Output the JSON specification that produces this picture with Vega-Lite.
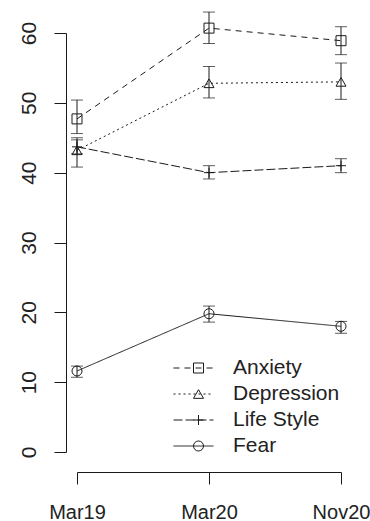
{
  "$schema": "https://vega.github.io/schema/vega-lite/v6.json",
  "autosize": "none",
  "padding": {"left": 77, "top": 33, "right": 29, "bottom": 69},
  "width": 264,
  "height": 419,
  "background": "white",
  "data": {"values": [
    {"series": "Anxiety", "time": "Mar19", "value": 47.7, "lo": 45.6, "hi": 50.4},
    {"series": "Anxiety", "time": "Mar20", "value": 60.7, "lo": 58.5, "hi": 63.0},
    {"series": "Anxiety", "time": "Nov20", "value": 58.9, "lo": 56.9, "hi": 60.9},
    {"series": "Depression", "time": "Mar19", "value": 43.2, "lo": 40.8, "hi": 45.0},
    {"series": "Depression", "time": "Mar20", "value": 52.8, "lo": 50.7, "hi": 55.2},
    {"series": "Depression", "time": "Nov20", "value": 53.0, "lo": 50.5, "hi": 55.7},
    {"series": "Life Style", "time": "Mar19", "value": 43.7, "lo": 42.7, "hi": 44.7},
    {"series": "Life Style", "time": "Mar20", "value": 40.0, "lo": 39.1, "hi": 41.0},
    {"series": "Life Style", "time": "Nov20", "value": 41.0, "lo": 40.0, "hi": 42.0},
    {"series": "Fear", "time": "Mar19", "value": 11.6, "lo": 10.7, "hi": 12.3},
    {"series": "Fear", "time": "Mar20", "value": 19.8, "lo": 18.6, "hi": 20.9},
    {"series": "Fear", "time": "Nov20", "value": 18.0, "lo": 17.0, "hi": 18.7}
  ]},
  "encoding": {
    "x": {"field": "time", "type": "ordinal", "title": null,
      "scale": {"type": "point", "padding": 0, "domain": ["Mar19", "Mar20", "Nov20"]}}
  },
  "layer": [
    {
      "mark": {"type": "rule", "color": "#1a1a1a", "strokeWidth": 1},
      "encoding": {
        "y": {"field": "lo", "type": "quantitative", "title": null, "scale": {"domain": [0, 60], "nice": false, "zero": false}},
        "y2": {"field": "hi"}
      }
    },
    {
      "mark": {"type": "tick", "color": "#1a1a1a", "size": 12, "thickness": 1},
      "encoding": {"y": {"field": "lo", "type": "quantitative", "title": null}}
    },
    {
      "mark": {"type": "tick", "color": "#1a1a1a", "size": 12, "thickness": 1},
      "encoding": {"y": {"field": "hi", "type": "quantitative", "title": null}}
    },
    {
      "mark": {"type": "line", "color": "#1a1a1a", "strokeWidth": 1},
      "encoding": {
        "y": {"field": "value", "type": "quantitative", "title": null,
          "axis": {"values": [0, 10, 20, 30, 40, 50, 60]}},
        "strokeDash": {"field": "series", "type": "nominal",
          "sort": ["Anxiety", "Depression", "Life Style", "Fear"],
          "scale": {"range": [[6, 5], [2, 3], [9, 3], [1, 0]]},
          "legend": {"orient": "none", "legendX": 96, "legendY": 324, "title": null,
            "symbolType": "stroke", "symbolSize": 1600, "symbolStrokeColor": "#1a1a1a",
            "symbolStrokeWidth": 1, "symbolOffset": 0,
            "labelFont": "Liberation Sans", "labelFontSize": 21, "labelColor": "#222",
            "labelOffset": 19, "clipHeight": 22, "rowPadding": 4, "padding": 0}}
      }
    },
    {
      "mark": {"type": "point", "color": "#1a1a1a", "filled": false, "strokeWidth": 1, "size": 100, "opacity": 1},
      "encoding": {
        "y": {"field": "value", "type": "quantitative", "title": null},
        "shape": {"field": "series", "type": "nominal",
          "scale": {"domain": ["Anxiety", "Depression", "Life Style", "Fear"],
            "range": ["square", "triangle-up", "M-1,0H1M0,-1V1", "circle"]},
          "legend": {"orient": "none", "legendX": 96, "legendY": 324, "title": null,
            "symbolSize": 100, "symbolStrokeColor": "#1a1a1a", "symbolStrokeWidth": 1,
            "symbolOffset": 15, "labelExpr": "''", "labelFontSize": 21,
            "clipHeight": 22, "rowPadding": 4, "padding": 0}}
      }
    }
  ],
  "config": {
    "view": {"stroke": null},
    "axis": {"domainColor": "#1a1a1a", "tickColor": "#1a1a1a", "labelColor": "#222",
      "labelFont": "Liberation Sans", "labelFontSize": 21, "tickSize": 12,
      "grid": false, "domainWidth": 1, "tickWidth": 1},
    "axisX": {"offset": 20, "labelAngle": 0, "labelBaseline": "alphabetic", "labelPadding": 34, "labelFontSize": 20},
    "axisY": {"offset": 11, "labelAngle": -90, "labelAlign": "center", "labelBaseline": "alphabetic", "labelPadding": 19}
  }
}
